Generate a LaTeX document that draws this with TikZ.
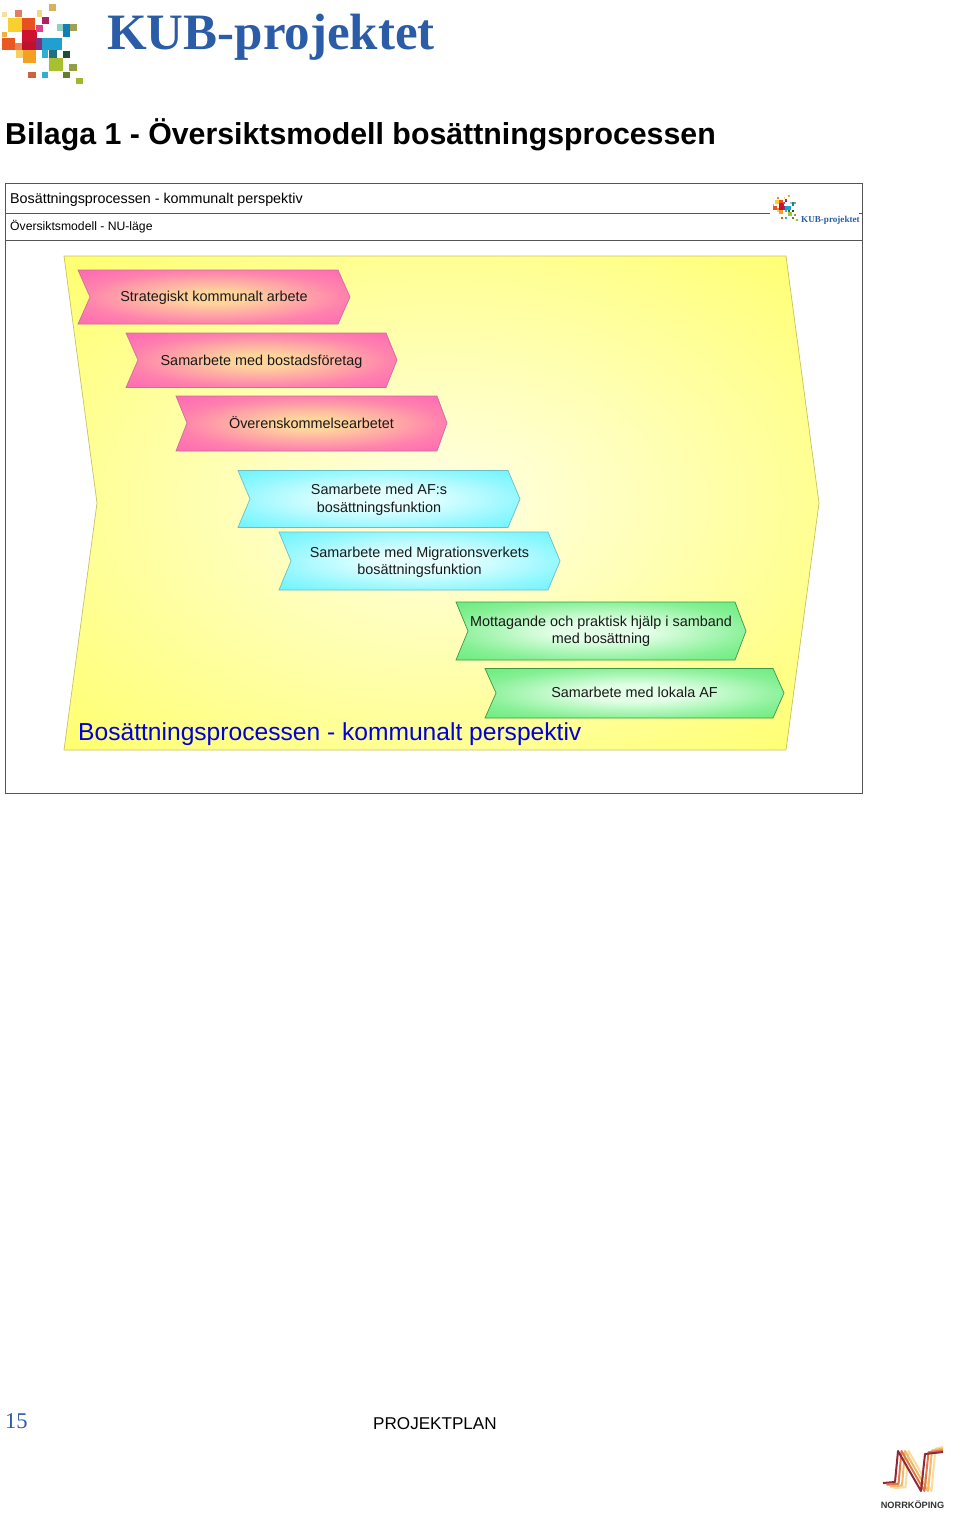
\documentclass[tikz,border=0pt]{standalone}
\usepackage{fontspec}
\setmainfont{Liberation Sans}
\newfontfamily\serifbold{Liberation Serif}
\definecolor{pinkmid}{HTML}{FFD49C}
\definecolor{pinkedge}{HTML}{FF62B4}
\definecolor{cyanmid}{HTML}{E4FFFF}
\definecolor{cyanedge}{HTML}{5CF2FF}
\definecolor{greenmid}{HTML}{E4FFE8}
\definecolor{greenedge}{HTML}{5EEA72}
\definecolor{kubblue}{HTML}{2A5CA8}
\definecolor{framegray}{HTML}{555555}
\pgfdeclareradialshading{yellowglow}{\pgfpoint{0bp}{0bp}}{color(0bp)=(white!90!yellow); color(14bp)=(white!72!yellow); color(38bp)=(yellow!60!white); color(60bp)=(yellow!56!white)}
\pgfdeclareradialshading{pinkglow}{\pgfpoint{0bp}{0bp}}{color(0bp)=(pinkmid); color(6bp)=(pinkmid); color(24bp)=(pinkedge!72!pinkmid); color(38bp)=(pinkedge); color(60bp)=(pinkedge)}
\pgfdeclareradialshading{cyanglow}{\pgfpoint{0bp}{0bp}}{color(0bp)=(cyanmid); color(8bp)=(cyanmid); color(26bp)=(cyanedge!62!cyanmid); color(40bp)=(cyanedge); color(60bp)=(cyanedge)}
\pgfdeclareradialshading{greenglow}{\pgfpoint{0bp}{0bp}}{color(0bp)=(greenmid); color(8bp)=(greenmid); color(26bp)=(greenedge!70!greenmid); color(40bp)=(greenedge); color(60bp)=(greenedge)}
\tikzset{
  yellowshape/.style={draw=yellow!50!gray, line width=0.7pt, shading=yellowglow},
  pinkchev/.style={draw=pinkedge!60!gray, line width=0.7pt, shading=pinkglow},
  cyanchev/.style={draw=cyanedge!55!gray, line width=0.7pt, shading=cyanglow},
  greenchev/.style={draw=greenedge!65!black, line width=0.7pt, shading=greenglow},
  chevtext/.style={font=\fontsize{14.4}{17.5}\selectfont, align=center, text=black!90, inner sep=0pt},
  frameline/.style={draw=framegray, line width=0.9pt},
  kublogo/.pic={
    % coloured squares of the logo
    \foreach \x/\y/\w/\h/\c in {148/12/20/20/D9B060,45/30/20/20/E08060,110/30/15/20/F0D880,5/35/15/15/F5E0A0,
      25/55/40/40/F8D030,65/55/40/35/E85020,125/52/22/20/B02060,5/95/15/15/F0B040,65/90/45/35/D01030,
      108/75/20/20/E04080,170/72/25/20/90D0C0,190/72/20/40/1080B0,210/72/20/20/A0A050,5/115/40/35/E85820,
      65/125/45/25/C01030,108/115/20/35/803080,125/115/60/35/20A0D0,45/130/20/20/F08050,48/150/20/25/F5D060,
      68/150/40/40/F5A020,125/150/20/25/30B0D0,148/150/22/25/207080,188/152/22/22/205030,148/175/40/38/A8C030,
      208/192/22/20/90A040,188/215/22/20/608030,85/215/22/20/D06040,125/215/20/20/30B0D0,228/235/20/18/A0B830}{
      \definecolor{logocol}{HTML}{\c}
      \fill[logocol] (\x,\y) rectangle ++(\w,\h);
    }
  }
}
\begin{document}
\begin{tikzpicture}[x=1pt, y=-1pt]
  \useasboundingbox (0,0) rectangle (960,1520);
  % page head
  \pic[scale=0.3333] at (0,0) {kublogo};
  \node[anchor=base west, inner sep=0pt, text=kubblue, font=\serifbold\bfseries\fontsize{51}{51}\selectfont] (kubtitle) at (107,50) {KUB-projektet};
  \node[anchor=base west, inner sep=0pt, font=\bfseries\fontsize{30.3}{31}\selectfont] (bilaga) at (5,144) {Bilaga 1 - Översiktsmodell bosättningsprocessen};
  % frame of the model
  \draw[frameline] (5.5,183.5) rectangle (862.5,793.5);
  \draw[frameline] (5.5,213.5) -- (770,213.5);
  \draw[frameline] (859,213.5) -- (862.5,213.5);
  \draw[frameline] (5.5,240.5) -- (862.5,240.5);
  \node[anchor=base west, inner sep=0pt, font=\fontsize{14.3}{17}\selectfont] (head) at (10,203) {Bosättningsprocessen - kommunalt perspektiv};
  \node[anchor=base west, inner sep=0pt, font=\fontsize{12.2}{15}\selectfont] (subhead) at (10,230.5) {Översiktsmodell - NU-läge};
  \pic[scale=0.105] at (772,194) {kublogo};
  \node[anchor=base west, inner sep=0pt, text=kubblue, font=\serifbold\bfseries\fontsize{9.1}{10}\selectfont] (kubsmall) at (801,222) {KUB-projektet};
  % big yellow shape
  \path[yellowshape] (64,256) -- (786,256) -- (819,503) -- (786,750) -- (64,750) -- (97,503) -- cycle;
  % pink steps
  \path[pinkchev] (78,270) -- (338,270) -- (350,297) -- (338,324) -- (78,324) -- (90,297) -- cycle;
  \node[chevtext] (strategi) at (214,298) {Strategiskt kommunalt arbete};
  \path[pinkchev] (126,333) -- (386,333) -- (397,360) -- (386,387.5) -- (126,387.5) -- (138,360) -- cycle;
  \node[chevtext] (bostad) at (261.5,361.5) {Samarbete med bostadsföretag};
  \path[pinkchev] (176,396) -- (437,396) -- (447,423) -- (437,451) -- (176,451) -- (187,423) -- cycle;
  \node[chevtext] (overens) at (311.5,423) {Överenskommelsearbetet};
  % cyan steps
  \path[cyanchev] (238,470.5) -- (508,470.5) -- (520,499) -- (508,527.5) -- (238,527.5) -- (250,499) -- cycle;
  \node[chevtext] (afs) at (379,500) {Samarbete med AF:s\\bosättningsfunktion};
  \path[cyanchev] (279,532) -- (548,532) -- (560,561) -- (548,590) -- (279,590) -- (291,561) -- cycle;
  \node[chevtext] (migration) at (419.5,562.5) {Samarbete med Migrationsverkets\\bosättningsfunktion};
  % green steps
  \path[greenchev] (456,602) -- (735,602) -- (746,631) -- (735,660) -- (456,660) -- (468,631) -- cycle;
  \node[chevtext] (mottagande) at (601,631.5) {Mottagande och praktisk hjälp i samband\\med bosättning};
  \path[greenchev] (485,668.5) -- (773,668.5) -- (784,693) -- (773,718) -- (485,718) -- (496,693) -- cycle;
  \node[chevtext] (lokala) at (634.5,692.5) {Samarbete med lokala AF};
  \node[anchor=base west, inner sep=0pt, text=blue!85!black, font=\fontsize{24.6}{26}\selectfont] (process) at (78,740) {Bosättningsprocessen - kommunalt perspektiv};
  % page foot
  \node[anchor=base west, inner sep=0pt, text=kubblue, font=\serifbold\fontsize{22.5}{23}\selectfont] (pagenr) at (5,1428.5) {15};
  \node[anchor=base west, inner sep=0pt, font=\fontsize{17.1}{18}\selectfont] (foot) at (373,1429) {PROJEKTPLAN};
  % town logo
  \foreach \dx/\c in {10.5/F8DCA0,7/F2B868,3.5/E07848,0/8E2A38}{
    \definecolor{townline}{HTML}{\c}
    \draw[townline, line width=2pt, line join=round] ({883+\dx},{1483+0.5*\dx}) -- ({895+\dx},{1482+0.5*\dx}) -- ({898+\dx},{1451}) -- ({921+\dx},{1491}) -- ({925+\dx},{1454-0.5*\dx}) -- ({943},{1452-0.5*\dx});
  }
  \node[anchor=base, inner sep=0pt, text=black!80, font=\bfseries\fontsize{9.2}{10}\selectfont] (town) at (912.5,1508) {NORRKÖPING};
\end{tikzpicture}
\end{document}
